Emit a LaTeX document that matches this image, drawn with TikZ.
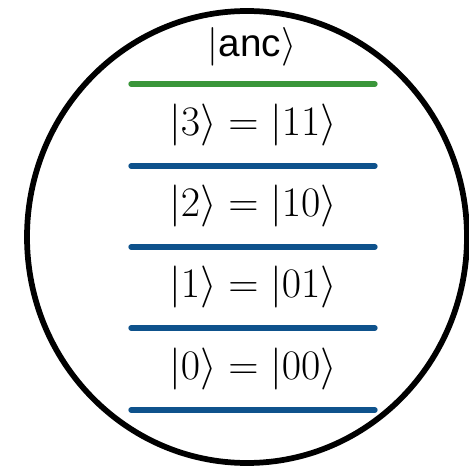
\RequirePackage{fix-cm}
\documentclass[tikz,border=0pt]{standalone}
\usepackage{amsmath}
\usepackage{fontspec}
\newfontfamily\ancfont{Liberation Sans}
\definecolor{levelblue}{RGB}{14,82,140}
\definecolor{ancgreen}{RGB}{58,150,58}
\tikzset{
    level/.style={line width=4pt, line cap=round, levelblue},
    ket/.style={inner sep=0pt, font=\fontsize{31.5}{38}\selectfont}
}
\begin{document}
\begin{tikzpicture}[x=0.75pt, y=-0.75pt]
    \useasboundingbox (0,0) rectangle (469,467);

    % Outer circle
    \draw[line width=4.3pt] (247,237) ellipse [x radius=220, y radius=226];

    % Ancilla level
    \coordinate (anc-l) at (131,84);
    \coordinate (anc-r) at (375,84);
    \draw[level, ancgreen] (anc-l) -- (anc-r);
    \node[ket, font=\fontsize{29}{35}\selectfont] (anc) at (252,47) {$|\text{\ancfont anc}\rangle$};

    % Computational levels, top to bottom
    \foreach \i/\y/\bits in {3/166/11, 2/247/10, 1/328/01, 0/410/00} {
        \coordinate (l\i-l) at (131,\y);
        \coordinate (l\i-r) at (375,\y);
        \draw[level] (l\i-l) -- (l\i-r);
        \node[ket] (k\i) at (253,\y-41) {$|\i\rangle = |\bits\rangle$};
    }
\end{tikzpicture}
\end{document}
